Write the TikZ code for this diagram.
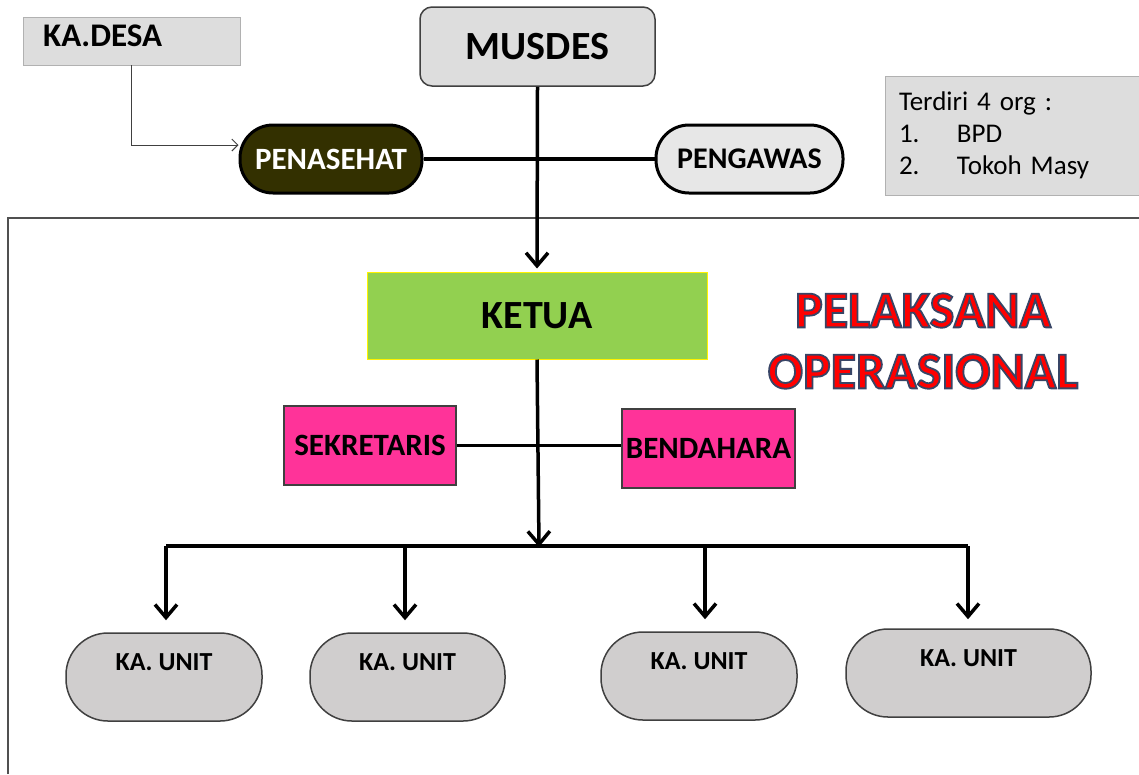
\documentclass[tikz,border=0pt]{standalone}
\usepackage{fontspec}
\setmainfont{Carlito}
\usetikzlibrary{arrows.meta}
\definecolor{boxgray}{RGB}{221,221,221}
\definecolor{unitgray}{RGB}{208,206,206}
\definecolor{olive}{RGB}{51,48,0}
\definecolor{pinkbox}{RGB}{255,51,153}
\definecolor{greenbox}{RGB}{146,208,80}
\definecolor{edgegray}{RGB}{64,64,64}
\definecolor{framegray}{RGB}{80,80,80}
\newcommand{\outlinetext}[1]{\special{pdf:literal 2 Tr 1.8 w 0.22 0.27 0.40 RG}#1\special{pdf:literal 0 Tr}}
\tikzset{
  fnt/.style={font=\fontsize{#1}{#1}\selectfont\bfseries},
  thick line/.style={line width=3.5pt, black},
  bigarrow/.style={thick line, -{Straight Barb[length=13pt,width=22pt,line width=3.5pt]}},
  thinarrow/.style={line width=1pt, edgegray, -{Straight Barb[length=6pt,width=12pt,line width=1pt]}},
  stadium/.style={draw=black, line width=3pt, rounded corners=33pt, minimum height=68pt, inner sep=0pt},
  unitbox/.style={draw=edgegray, line width=1.5pt, fill=unitgray, rounded corners=42pt, minimum height=88pt, inner sep=0pt},
  unittext/.style={fnt=26, inner sep=0pt},
  pinkrect/.style={draw=edgegray, line width=1.2pt, fill=pinkbox, minimum width=172pt, minimum height=79pt, inner sep=0pt, fnt=31},
}
\begin{document}
\begin{tikzpicture}[x=1pt,y=-1pt]
\useasboundingbox (0,0) rectangle (1139,774);
\fill[white] (0,0) rectangle (1139,774);

% frame of the operational part
\draw[framegray, line width=2pt] (8,774) -- (8,218) -- (1139,218);

% top part
\node[fill=boxgray, draw=boxgray!80!black, line width=0.5pt, minimum width=217pt, minimum height=48pt, inner sep=0pt] (kadesa) at (131.5,41) {};
\node[fnt=33, anchor=west, inner sep=0pt] (kadesatext) at (43,36) {KA.DESA};

\node[fill=boxgray, draw=edgegray, line width=1.5pt, rounded corners=12pt, minimum width=235pt, minimum height=79pt, inner sep=0pt, fnt=40] (musdes) at (537.5,46.5) {MUSDES};

\node[stadium, fill=olive, text=white, minimum width=182pt, fnt=31] (penasehat) at (331,159) {PENASEHAT};
\node[stadium, fill=boxgray!70!white, minimum width=187pt, fnt=30] (pengawas) at (749.5,159) {PENGAWAS};

\node[fill=boxgray, draw=boxgray!80!black, line width=0.8pt, minimum width=254pt, minimum height=119pt, inner xsep=14pt, text width=226pt, align=left, font=\fontsize{27}{32}\selectfont] (info) at (1012,135.5)
  {Terdiri 4 org :\\\makebox[58pt][l]{1.}BPD\\\makebox[58pt][l]{2.}Tokoh Masy};

\draw[thinarrow] (kadesa.south) |- ([yshift=14pt]penasehat.west);
\draw[thick line] (penasehat.east) -- (pengawas.west);

% operational part
\node[fill=greenbox, draw=yellow, line width=1pt, minimum width=340pt, minimum height=87pt, inner sep=0pt, fnt=40] (ketua) at (537,315.5) {KETUA};
\draw[bigarrow] (musdes.south) -- ([yshift=3pt]ketua.north);

\node[text=red, align=center, font=\fontsize{52}{61}\selectfont\bfseries] (pelaksana) at (923,341)
  {\outlinetext{PELAKSANA}\\\outlinetext{OPERASIONAL}};

\node[pinkrect] (sekretaris) at (370,445.5) {SEKRETARIS};
\node[pinkrect, minimum width=173pt] (bendahara) at (708.5,448.5) {BENDAHARA};
\draw[line width=2.5pt] (sekretaris.east) -- (sekretaris.east -| bendahara.west);

\coordinate (bus) at (539,547);
\coordinate (busl) at (166,546);
\coordinate (busr) at (968,546);
\draw[bigarrow] (ketua.south) -- (bus);
\draw[thick line] (busl) -- (busr);

\node[unitbox, minimum width=196pt] (u1) at (164,677) {};
\node[unitbox, minimum width=195pt] (u2) at (407.5,677) {};
\node[unitbox, minimum width=196pt] (u3) at (699,676) {};
\node[unitbox, minimum width=245pt] (u4) at (968.5,673) {};
\node[unittext] (t1) at ([yshift=14.5pt]u1.center) {KA. UNIT};
\node[unittext] (t2) at ([yshift=14.5pt]u2.center) {KA. UNIT};
\node[unittext] (t3) at ([yshift=14.5pt]u3.center) {KA. UNIT};
\node[unittext] (t4) at ([yshift=14.5pt]u4.center) {KA. UNIT};

\coordinate (d2) at (405,546);
\coordinate (d3) at (705,546);
\draw[bigarrow, shorten >=12pt] (busl) -- (busl |- u1.north);
\draw[bigarrow, shorten >=12pt] (d2) -- (d2 |- u2.north);
\draw[bigarrow, shorten >=12pt] (d3) -- (d3 |- u3.north);
\draw[bigarrow, shorten >=9pt] (busr) -- (busr |- u4.north);
\end{tikzpicture}
\end{document}
